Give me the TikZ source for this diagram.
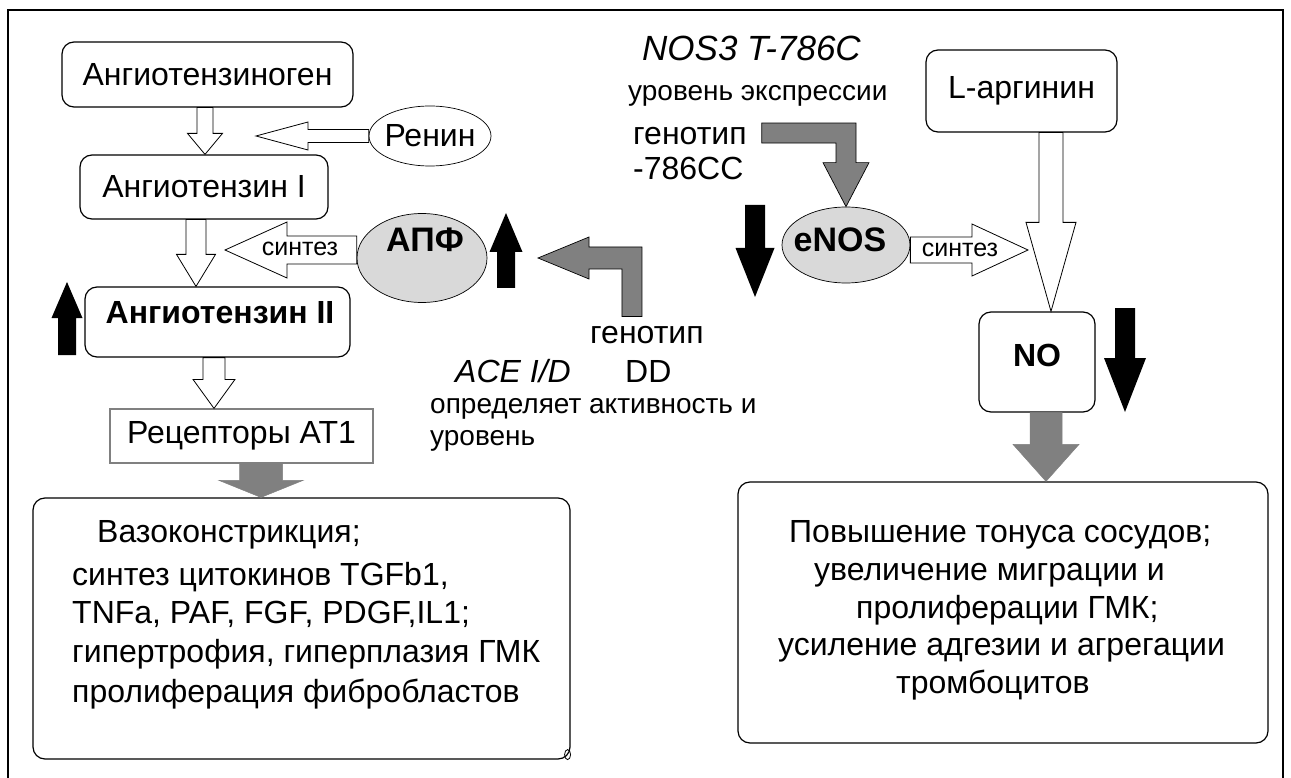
\documentclass[tikz,border=0pt]{standalone}
\usepackage{fontspec}
\setmainfont{Liberation Sans}
\usetikzlibrary{shapes.geometric,calc}
\definecolor{arrgray}{HTML}{808080}
\definecolor{ovalgray}{HTML}{D9D9D9}
\newcommand\fsz[1]{\fontsize{#1}{#1}\selectfont}
% block arrows: style, from, to, half shaft, half head, head length
\newcommand\adown[6]{\path[#1] let \p1=(#2), \p2=(#3) in
  (\x1-#4,\y1) -- (\x1-#4,\y2+#6) -- (\x1-#5,\y2+#6) -- (\x1,\y2) -- (\x1+#5,\y2+#6) -- (\x1+#4,\y2+#6) -- (\x1+#4,\y1) -- cycle;}
\newcommand\aup[6]{\path[#1] let \p1=(#2), \p2=(#3) in
  (\x1-#4,\y1) -- (\x1-#4,\y2-#6) -- (\x1-#5,\y2-#6) -- (\x1,\y2) -- (\x1+#5,\y2-#6) -- (\x1+#4,\y2-#6) -- (\x1+#4,\y1) -- cycle;}
\newcommand\aleft[6]{\path[#1] let \p1=(#2), \p2=(#3) in
  (\x1,\y1+#4) -- (\x2+#6,\y1+#4) -- (\x2+#6,\y1+#5) -- (\x2,\y1) -- (\x2+#6,\y1-#5) -- (\x2+#6,\y1-#4) -- (\x1,\y1-#4) -- cycle;}
\newcommand\aright[6]{\path[#1] let \p1=(#2), \p2=(#3) in
  (\x1,\y1+#4) -- (\x2-#6,\y1+#4) -- (\x2-#6,\y1+#5) -- (\x2,\y1) -- (\x2-#6,\y1-#5) -- (\x2-#6,\y1-#4) -- (\x1,\y1-#4) -- cycle;}
\tikzset{
  box/.style={draw, line width=1.2pt, rounded corners=12pt, inner sep=0pt, font=\fsz{32}},
  sqbox/.style={draw=arrgray, line width=1.2pt, inner sep=0pt, font=\fsz{32}},
  oval/.style={ellipse, draw, line width=0.7pt, inner sep=0pt},
  txt/.style={inner sep=0pt, font=\fsz{32}},
  hollow/.style={draw, fill=white, line width=0.8pt, line join=miter},
  blk/.style={fill=black},
  grayarr/.style={fill=arrgray, draw=arrgray, line width=0.5pt},
  bentarr/.style={fill=arrgray, draw=black, line width=0.7pt}
}
\begin{document}
\begin{tikzpicture}[x=1pt,y=-1pt]
\useasboundingbox (0,0) rectangle (1291,778);
\draw[line width=2.5pt] (8,780) -- (8,10) -- (1283,10) -- (1283,780);

% shapes
\node[box, minimum width=291pt, minimum height=65pt] (b1) at (207.5,74.5) {Ангиотензиноген};
\node[oval, minimum width=122pt, minimum height=60pt] (ren) at (430,136) {};
\node[box, minimum width=248pt, minimum height=64pt] (b2) at (204,187) {Ангиотензин I};
\node[oval, fill=ovalgray, minimum width=130pt, minimum height=89pt] (apf) at (422,258) {};
\node[box, minimum width=265pt, minimum height=70pt] (b3) at (217.5,322) {};
\node[sqbox, minimum width=263pt, minimum height=54pt] (rec) at (241.5,436) {Рецепторы AT1};
\node[box, minimum width=537pt, minimum height=261pt] (lbox) at (301.5,628.5) {};
\node[oval, fill=ovalgray, minimum width=128pt, minimum height=76pt] (enos) at (846,245) {};
\node[box, minimum width=191pt, minimum height=82pt] (larg) at (1021.5,91) {L-аргинин};
\node[box, minimum width=116pt, minimum height=100pt] (no) at (1037,362) {};
\node[box, minimum width=530pt, minimum height=261pt] (rbox) at (1003,612.5) {};
% small handle mark at the corner of the left box
\draw[line width=0.8pt] ($(lbox.south east)+(-3,-5)$) ellipse [x radius=3pt, y radius=5pt];

% genotype texts (sources of bent arrows)
\node[txt, anchor=base west] (gen1a) at (633,145) {генотип};
\node[txt, anchor=base west] (gen1b) at (633,179.5) {-786CC};
\node[txt, anchor=base west] (gen2) at (590,343) {генотип};

% free ends
\coordinate (rt) at (256,136);
\coordinate (st1) at (225,250);
\coordinate (st2) at (1028,250);
\coordinate (acebase) at ($(gen2.north)+(-15,-9)$);
\coordinate (acetip) at (538,258);
\coordinate (nosbase) at ($(gen1a.east)+(15,-3.5)$);
\coordinate (u1a) at (67,355);   \coordinate (u1b) at (67,282);
\coordinate (u2a) at (506,288);  \coordinate (u2b) at (506,213);
\coordinate (d1a) at (755,205);  \coordinate (d1b) at (755,297);
\coordinate (d2a) at (1125,308); \coordinate (d2b) at (1125,412);

% connectors
\adown{hollow}{$(b1.south)+(-2.5,0)$}{b2.north}{8pt}{17.5pt}{21pt}
\aleft{hollow}{ren.west}{rt}{6.5pt}{14pt}{52pt}
\adown{hollow}{$(b2.south)+(-8,0)$}{b3.north}{10pt}{19.5pt}{32pt}
\aleft{hollow}{apf.west |- st1}{st1}{14pt}{28pt}{62pt}
\adown{hollow}{$(b3.south)+(-3.5,0)$}{rec.north}{11pt}{21pt}{29pt}
\adown{grayarr}{$(rec.south)+(19.5,0)$}{lbox.north}{21.5pt}{42pt}{17pt}
\aright{hollow}{enos.east |- st2}{st2}{13pt}{26pt}{56pt}
\adown{hollow}{$(larg.south)+(29.5,0)$}{no.north}{12pt}{25pt}{89pt}
\adown{grayarr}{$(no.south)+(9,0)$}{rbox.north}{16pt}{33pt}{37pt}

\path[bentarr] let \p1=(acebase), \p2=(acetip) in
  (\x1-10pt,\y1) -- (\x1-10pt,\y2-11pt) -- (\x2+51pt,\y2-11pt) -- (\x2+51pt,\y2-21pt) -- (\x2,\y2)
  -- (\x2+51pt,\y2+21pt) -- (\x2+51pt,\y2+11pt) -- (\x1+10pt,\y2+11pt) -- (\x1+10pt,\y1) -- cycle;
\path[bentarr] let \p1=(nosbase), \p2=(enos.north) in
  (\x1,\y1+10pt) -- (\x2+10pt,\y1+10pt) -- (\x2+10pt,\y2+44pt) -- (\x2+23pt,\y2+44pt) -- (\x2,\y2)
  -- (\x2-23pt,\y2+44pt) -- (\x2-10pt,\y2+44pt) -- (\x2-10pt,\y1-10pt) -- (\x1,\y1-10pt) -- cycle;

% black indicator arrows
\aup{blk}{u1a}{u1b}{9pt}{15.5pt}{36pt}
\aup{blk}{u2a}{u2b}{9pt}{16.5pt}{39pt}
\adown{blk}{d1a}{d1b}{10pt}{19.5pt}{49pt}
\adown{blk}{d2a}{d2b}{10pt}{21pt}{54pt}

% labels
\node[txt] (rent) at (ren) {Ренин};
\node[txt, font=\fsz{34}\bfseries] (apft) at (425,240) {АПФ};
\node[txt, font=\fsz{34}\bfseries] (enost) at (840,240) {eNOS};
\node[txt, font=\fsz{32}\bfseries] (b3t) at (220,313) {Ангиотензин II};
\node[txt, font=\fsz{32}\bfseries] (not) at (1037,355) {NO};
\node[txt, font=\fsz{25}] (s1) at (300,249) {синтез};
\node[txt, font=\fsz{25}] (s2) at (960,250) {синтез};

\node[txt, anchor=base west, font=\fsz{35}\itshape] (nos) at (642,60.5) {NOS3 T-786C};
\node[txt, anchor=base west, font=\fsz{28}] (expr) at (628,101) {уровень экспрессии};
\node[txt, anchor=base west] (dd) at (625,382) {DD};
\node[txt, anchor=base west, font=\fsz{32}\itshape] (ace) at (455,382) {ACE I/D};
\node[txt, anchor=base west, font=\fsz{28}] (opr1) at (430,413) {определяет активность и};
\node[txt, anchor=base west, font=\fsz{28}] (opr2) at (430,445) {уровень};

\node[txt, anchor=base west] (l1) at (97,542) {Вазоконстрикция;};
\node[txt, anchor=base west] (l2) at (72,585) {синтез цитокинов TGFb1,};
\node[txt, anchor=base west] (l3) at (72,623) {TNFa, PAF, FGF, PDGF,IL1;};
\node[txt, anchor=base west] (l4) at (72,662) {гипертрофия, гиперплазия ГМК};
\node[txt, anchor=base west] (l5) at (72,702) {пролиферация фибробластов};

\node[txt, anchor=base west] (r1) at (789,542) {Повышение тонуса сосудов;};
\node[txt, anchor=base west] (r2) at (814,580) {увеличение миграции и};
\node[txt, anchor=base west] (r3) at (856,618) {пролиферации ГМК;};
\node[txt, anchor=base west] (r4) at (778,655) {усиление адгезии и агрегации};
\node[txt, anchor=base west] (r5) at (896,693) {тромбоцитов};
\end{tikzpicture}
\end{document}
